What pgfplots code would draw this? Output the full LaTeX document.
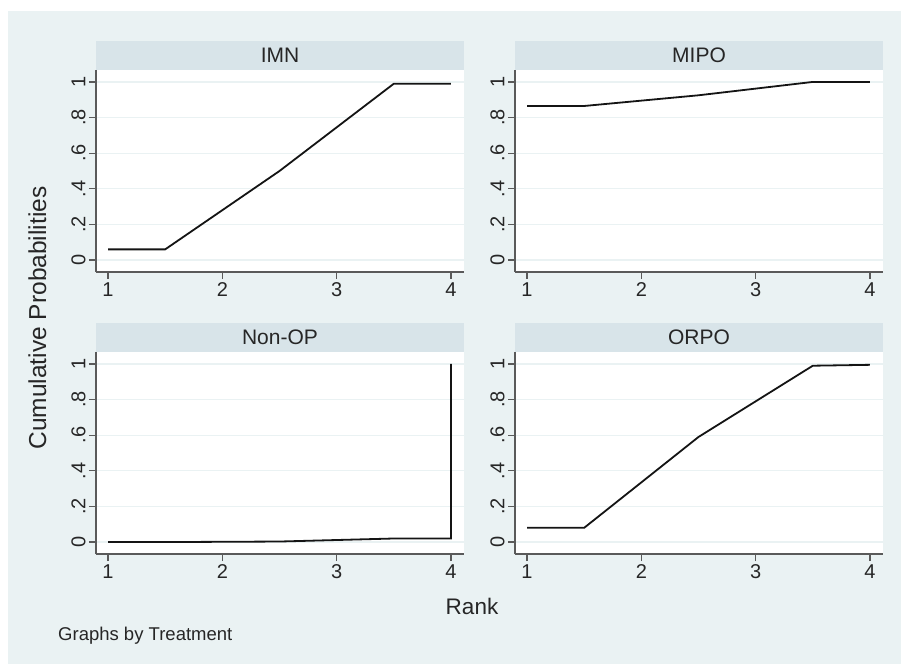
\documentclass[border=0pt]{standalone}
\usepackage{fontspec}
\setmainfont{Liberation Sans}
\usepackage{pgfplots}
\pgfplotsset{compat=1.18}
\definecolor{bgc}{RGB}{234,242,243}
\definecolor{barc}{RGB}{216,228,233}
\definecolor{axc}{RGB}{90,90,90}
\definecolor{linec}{RGB}{20,20,20}

\pgfplotsset{
 panel/.style={
  scale only axis, width=368pt, height=202pt,
  xmin=0.895, xmax=4.114, ymin=-0.067, ymax=1.067,
  axis x line=bottom, axis y line=left,
  axis line style={-, color=axc, line width=1.3pt},
  axis background/.style={fill=white},
  xtick={1,2,3,4}, xticklabels={1,2,3,4},
  ytick={0,0.2,0.4,0.6,0.8,1}, yticklabels={0,.2,.4,.6,.8,1},
  tick align=outside, major tick length=7pt,
  tick style={color=axc, line width=1.2pt},
  ymajorgrids, major grid style={color=bgc, line width=1.2pt},
  tick label style={font=\fontsize{20}{23}\selectfont, text=black!85},
  yticklabel style={rotate=90, anchor=south},
  xticklabel style={anchor=north},
  anchor=south west,
 },
 ptitle/.style={extra description/.code={
  \fill[barc] (rel axis cs:0,1) rectangle ([yshift=28.5pt]rel axis cs:1,1);
  \node[font=\fontsize{21}{25}\selectfont, text=black!85] at ([yshift=14.25pt]rel axis cs:0.5,1) {#1};}},
 pline/.style={color=linec, line width=1.8pt, mark=none},
}

\begin{document}
\begin{tikzpicture}
\path[use as bounding box] (0,0) rectangle (901pt,664pt);
\fill[white] (0,0) rectangle (901pt,664pt);
\fill[bgc] (8pt,0) rectangle (901pt,653pt);

\begin{axis}[panel, ptitle=IMN, at={(96pt,392pt)}]
\addplot[pline] coordinates {(1,0.06) (1.5,0.06) (2.5,0.50) (3.5,0.99) (4,0.99)};
\end{axis}

\begin{axis}[panel, ptitle=MIPO, at={(515pt,392pt)}]
\addplot[pline] coordinates {(1,0.865) (1.5,0.865) (2.5,0.925) (3.5,1.0) (4,1.0)};
\end{axis}

\begin{axis}[panel, ptitle=Non-OP, at={(96pt,110pt)}]
\addplot[pline] coordinates {(1,0) (1.5,0) (2.5,0.003) (3.5,0.02) (4,0.02) (4,1)};
\end{axis}

\begin{axis}[panel, ptitle=ORPO, at={(515pt,110pt)}]
\addplot[pline] coordinates {(1,0.08) (1.5,0.08) (2.5,0.59) (3.5,0.99) (4,0.995)};
\end{axis}

\node[rotate=90, anchor=base, font=\fontsize{24.5}{28}\selectfont, text=black!85] at (46pt,346pt) {Cumulative Probabilities};
\node[anchor=base, font=\fontsize{22.5}{26}\selectfont, text=black!85] at (472pt,50pt) {Rank};
\node[anchor=base west, inner sep=0pt, font=\fontsize{18.5}{22}\selectfont, text=black!85] at (58pt,24pt) {Graphs by Treatment};
\end{tikzpicture}
\end{document}
